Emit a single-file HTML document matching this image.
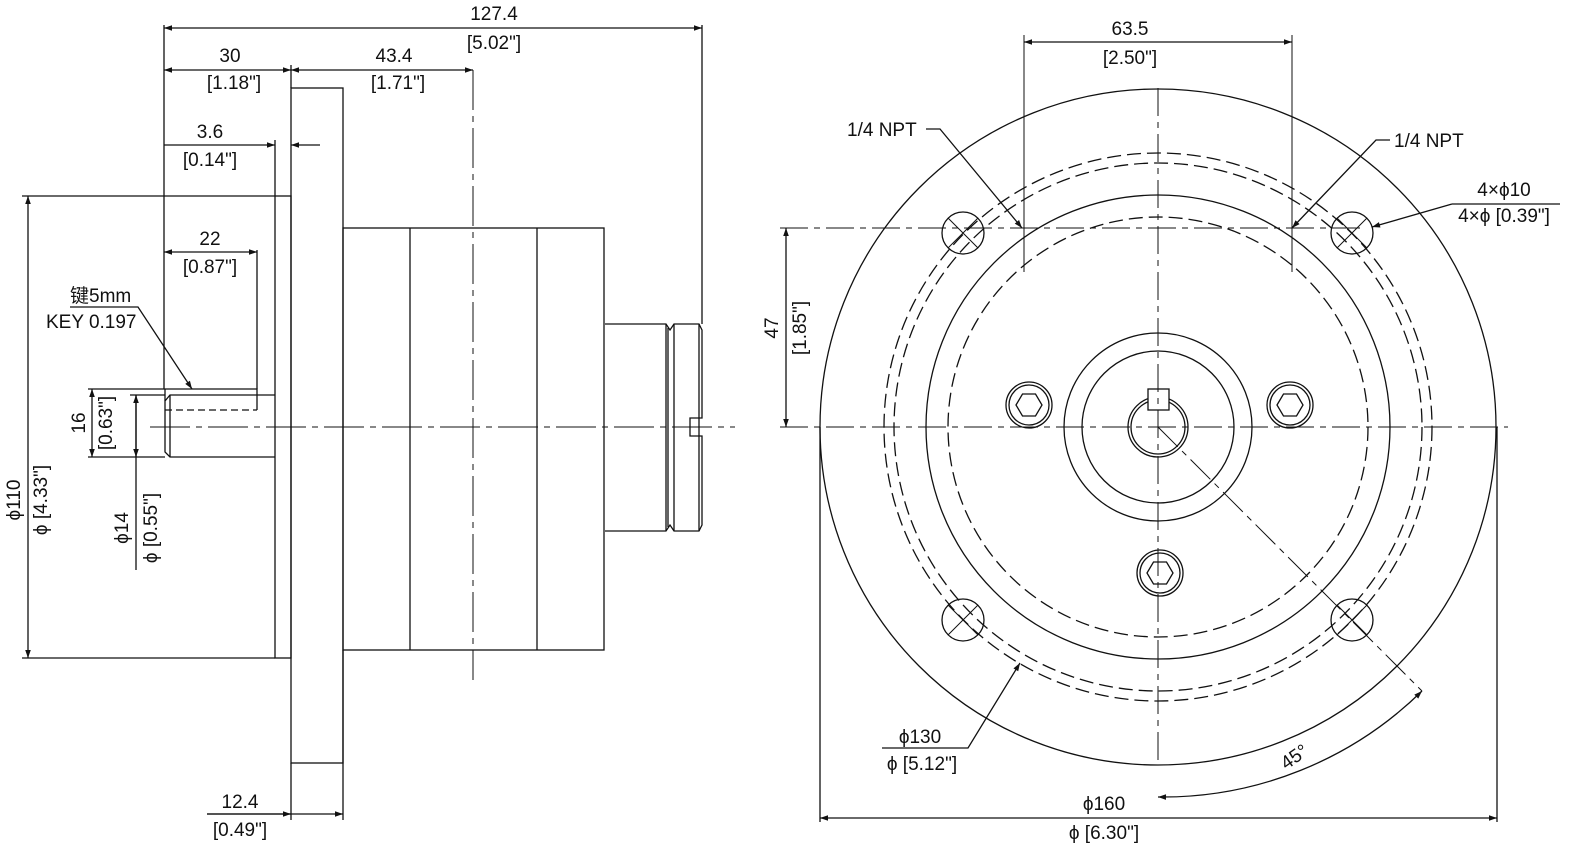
<!DOCTYPE html>
<html><head><meta charset="utf-8"><style>
body{margin:0;background:#fff}
svg{display:block}
text{font-family:"Liberation Sans","Noto Sans CJK SC",sans-serif;font-size:19px;fill:#111}
</style></head><body>
<svg width="1571" height="860" viewBox="0 0 1571 860" xmlns="http://www.w3.org/2000/svg">
<defs>
<marker id="a" viewBox="0 0 10 10" refX="10" refY="5" markerWidth="12" markerHeight="8" orient="auto-start-reverse" markerUnits="userSpaceOnUse"><path d="M0,1.5 L10,5 L0,8.5 z" fill="#111"/></marker>
</defs>
<g stroke="#111" stroke-width="1.3" fill="none">
<!-- LEFT VIEW -->
<rect x="291" y="88" width="52" height="675"/>
<rect x="275" y="196" width="16" height="462"/>
<rect x="343" y="228" width="261" height="422"/>
<line x1="410" y1="228" x2="410" y2="650"/>
<line x1="537" y1="228" x2="537" y2="650"/>
<path d="M605,324 H666 L670,330 L674,324 H699 L702,330 V418 H690 V436 H702 V525 L699,531 H674 L670,525 L666,531 H605"/>
<line x1="666" y1="324" x2="666" y2="531"/><line x1="674" y1="324" x2="674" y2="531"/>
<line x1="668" y1="328" x2="668" y2="527"/><line x1="699" y1="324" x2="699" y2="531"/>
<!-- shaft -->
<path d="M275,395 H170 L165,401 V452 L170,457 H275"/>
<line x1="170" y1="395" x2="170" y2="457"/>
<path d="M165,389 H257 V410"/>
<line x1="165" y1="410" x2="257" y2="410" stroke-dasharray="7,4"/>
<line x1="165" y1="389" x2="165" y2="401"/>
<!-- center line -->
<line x1="150" y1="427" x2="735" y2="427" stroke-dasharray="40,6,6,6" stroke-width="1"/>
<line x1="473" y1="70" x2="473" y2="680" stroke-dasharray="40,6,6,6" stroke-width="1"/>
<!-- extension lines -->
<line x1="164" y1="25" x2="164" y2="389"/>
<line x1="702" y1="25" x2="702" y2="324"/>
<line x1="291" y1="65" x2="291" y2="88"/>
<line x1="275" y1="140" x2="275" y2="196"/>
<line x1="257" y1="250" x2="257" y2="389"/>
<line x1="22" y1="196" x2="275" y2="196"/>
<line x1="22" y1="658" x2="275" y2="658"/>
<line x1="88" y1="389" x2="165" y2="389"/>
<line x1="88" y1="457" x2="165" y2="457"/>
<line x1="130" y1="395" x2="165" y2="395"/>
<line x1="291" y1="763" x2="291" y2="820"/><line x1="343" y1="650" x2="343" y2="820"/>
<!-- dims -->
<line x1="164" y1="28" x2="702" y2="28" marker-start="url(#a)" marker-end="url(#a)"/>
<line x1="164" y1="70" x2="291" y2="70" marker-start="url(#a)" marker-end="url(#a)"/>
<line x1="291" y1="70" x2="473" y2="70" marker-start="url(#a)" marker-end="url(#a)"/>
<line x1="164" y1="145" x2="275" y2="145" marker-end="url(#a)"/>
<line x1="320" y1="145" x2="291" y2="145" marker-end="url(#a)"/>
<line x1="164" y1="252" x2="257" y2="252" marker-start="url(#a)" marker-end="url(#a)"/>
<line x1="28" y1="196" x2="28" y2="658" marker-start="url(#a)" marker-end="url(#a)"/>
<line x1="92" y1="389" x2="92" y2="457" marker-start="url(#a)" marker-end="url(#a)"/>
<line x1="136" y1="395" x2="136" y2="570" marker-start="url(#a)"/>
<line x1="136" y1="395" x2="136" y2="457" marker-end="url(#a)"/>
<line x1="207" y1="814" x2="343" y2="814" marker-end="url(#a)"/>
<line x1="207" y1="814" x2="291" y2="814" marker-end="url(#a)" marker-start="none"/>
<path d="M70,307 H138 L192,389" marker-end="url(#a)"/>

<!-- RIGHT VIEW -->
<circle cx="1158" cy="427" r="338"/>
<circle cx="1158" cy="427" r="274" stroke-dasharray="14,6"/>
<circle cx="1158" cy="427" r="264" stroke-dasharray="14,6"/>
<circle cx="1158" cy="427" r="232"/>
<circle cx="1158" cy="427" r="210" stroke-dasharray="14,6"/>
<circle cx="1158" cy="427" r="94"/>
<circle cx="1158" cy="427" r="76"/>
<circle cx="1158" cy="427" r="30"/>
<circle cx="1158" cy="427" r="27"/>
<rect x="1148" y="389" width="21" height="21" fill="#fff"/>
<g>
<circle cx="963" cy="233" r="21"/><circle cx="1352" cy="233" r="21"/>
<circle cx="963" cy="620" r="21"/><circle cx="1352" cy="620" r="21"/>
<path d="M948,218 l30,30 M948,248 l30,-30 M1337,218 l30,30 M1337,248 l30,-30 M948,605 l30,30 M948,635 l30,-30 M1337,605 l30,30 M1337,635 l30,-30" stroke-width="1"/>
</g>
<g>
<circle cx="1029" cy="405" r="23"/><circle cx="1029" cy="405" r="20"/>
<circle cx="1290" cy="405" r="23"/><circle cx="1290" cy="405" r="20"/>
<circle cx="1160" cy="573" r="23"/><circle cx="1160" cy="573" r="20"/>
<polygon points="1016,405 1022.5,394 1035.5,394 1042,405 1035.5,416 1022.5,416"/>
<polygon points="1277,405 1283.5,394 1296.5,394 1303,405 1296.5,416 1283.5,416"/>
<polygon points="1147,573 1153.5,562 1166.5,562 1173,573 1166.5,584 1153.5,584"/>
</g>
<line x1="780" y1="427" x2="1508" y2="427" stroke-dasharray="28,6,6,6" stroke-width="1"/>
<line x1="1158" y1="88" x2="1158" y2="765" stroke-dasharray="28,6,6,6" stroke-width="1"/>
<line x1="780" y1="228" x2="1360" y2="228" stroke-dasharray="28,6,6,6" stroke-width="1"/>
<line x1="1158" y1="427" x2="1422" y2="691" stroke-dasharray="28,6,6,6" stroke-width="1"/>
<line x1="1024" y1="35" x2="1024" y2="272" stroke-width="1"/>
<line x1="1292" y1="35" x2="1292" y2="272" stroke-width="1"/>
<line x1="1024" y1="42" x2="1292" y2="42" marker-start="url(#a)" marker-end="url(#a)"/>
<line x1="786" y1="228" x2="786" y2="427" marker-start="url(#a)" marker-end="url(#a)"/>
<line x1="820" y1="427" x2="820" y2="822"/><line x1="1497" y1="427" x2="1497" y2="822"/>
<line x1="820" y1="818" x2="1497" y2="818" marker-start="url(#a)" marker-end="url(#a)"/>
<path d="M926,129 H940 L1022,228" marker-end="url(#a)"/>
<path d="M1390,140 H1376 L1292,228" marker-end="url(#a)"/>
<path d="M1452,204 H1560 M1452,204 L1372,227" marker-end="url(#a)"/>
<path d="M882,748 H968 L1020,663" marker-end="url(#a)"/>
<path d="M1158,797 A370,370 0 0 0 1422,691" marker-start="url(#a)" marker-end="url(#a)"/>
<line x1="134" y1="540" x2="134" y2="570" stroke-width="0"/>
</g>
<!-- texts -->
<text x="494" y="20" text-anchor="middle">127.4</text>
<text x="494" y="49" text-anchor="middle">[5.02"]</text>
<text x="230" y="62" text-anchor="middle">30</text>
<text x="234" y="89" text-anchor="middle">[1.18"]</text>
<text x="394" y="62" text-anchor="middle">43.4</text>
<text x="398" y="89" text-anchor="middle">[1.71"]</text>
<text x="210" y="138" text-anchor="middle">3.6</text>
<text x="210" y="166" text-anchor="middle">[0.14"]</text>
<text x="210" y="245" text-anchor="middle">22</text>
<text x="210" y="273" text-anchor="middle">[0.87"]</text>
<text x="70" y="302">键5mm</text>
<text x="46" y="328">KEY 0.197</text>
<text x="240" y="808" text-anchor="middle">12.4</text>
<text x="240" y="836" text-anchor="middle">[0.49"]</text>
<text transform="translate(20,500) rotate(-90)" text-anchor="middle">ϕ110</text>
<text transform="translate(47,500) rotate(-90)" text-anchor="middle">ϕ [4.33"]</text>
<text transform="translate(85,423) rotate(-90)" text-anchor="middle">16</text>
<text transform="translate(112,423) rotate(-90)" text-anchor="middle">[0.63"]</text>
<text transform="translate(128,528) rotate(-90)" text-anchor="middle">ϕ14</text>
<text transform="translate(157,528) rotate(-90)" text-anchor="middle">ϕ [0.55"]</text>
<text x="1130" y="35" text-anchor="middle">63.5</text>
<text x="1130" y="64" text-anchor="middle">[2.50"]</text>
<text x="847" y="136">1/4 NPT</text>
<text x="1394" y="147">1/4 NPT</text>
<text x="1504" y="196" text-anchor="middle">4×ϕ10</text>
<text x="1504" y="222" text-anchor="middle">4×ϕ [0.39"]</text>
<text transform="translate(778,328) rotate(-90)" text-anchor="middle">47</text>
<text transform="translate(806,328) rotate(-90)" text-anchor="middle">[1.85"]</text>
<text x="920" y="743" text-anchor="middle">ϕ130</text>
<text x="922" y="770" text-anchor="middle">ϕ [5.12"]</text>
<text x="1104" y="810" text-anchor="middle">ϕ160</text>
<text x="1104" y="839" text-anchor="middle">ϕ [6.30"]</text>
<text transform="translate(1298,762) rotate(-35)" text-anchor="middle">45°</text>
</svg>
</body></html>
